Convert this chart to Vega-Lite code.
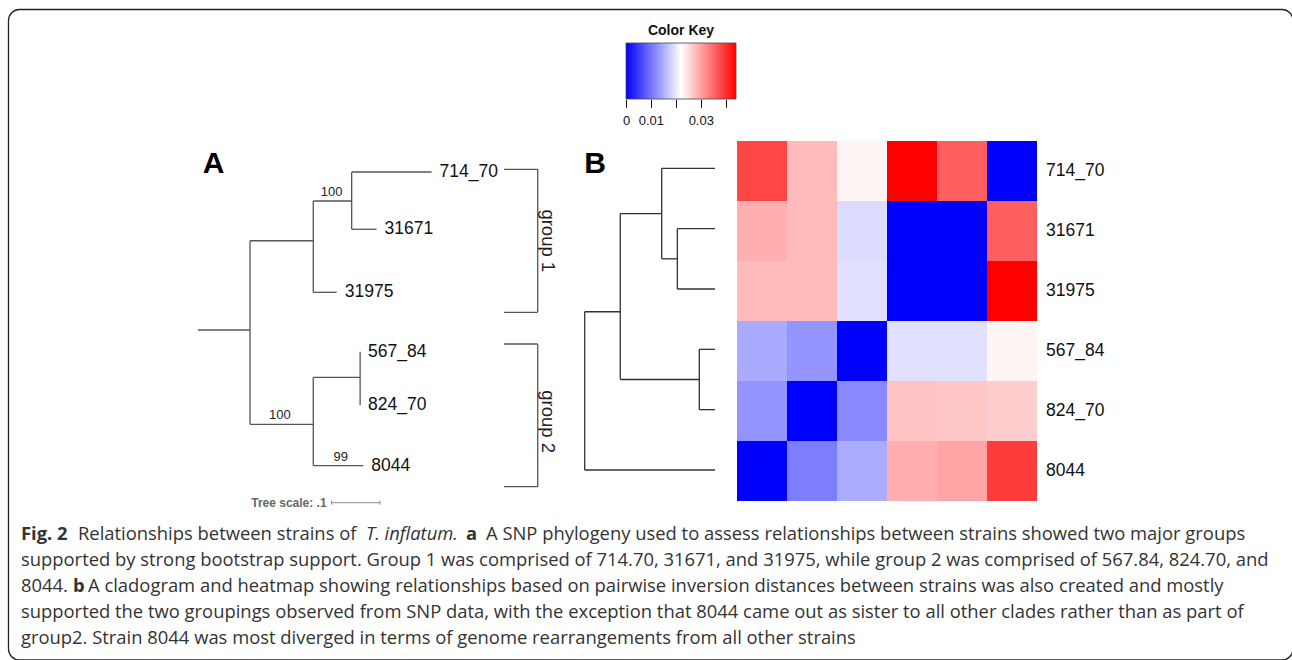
{
  "$schema": "https://vega.github.io/schema/vega-lite/v6.json",
  "width": 1292,
  "height": 660,
  "padding": 0,
  "autosize": {"type": "none"},
  "background": "white",
  "config": {"view": {"stroke": null}, "font": "Liberation Sans"},
  "datasets": {
    "treeA": [
      {"x1": -0.1077, "x2": 0, "y1": 3.69, "y2": 3.69},
      {"x1": 0, "x2": 0, "y1": 2.17, "y2": 5.295},
      {"x1": 0, "x2": 0.131, "y1": 2.17, "y2": 2.17},
      {"x1": 0.131, "x2": 0.131, "y1": 1.494, "y2": 3.048},
      {"x1": 0.131, "x2": 0.2105, "y1": 1.494, "y2": 1.494},
      {"x1": 0.2105, "x2": 0.2105, "y1": 1.0, "y2": 1.975},
      {"x1": 0.2105, "x2": 0.376, "y1": 1.0, "y2": 1.0},
      {"x1": 0.2105, "x2": 0.262, "y1": 1.975, "y2": 1.975},
      {"x1": 0.131, "x2": 0.1795, "y1": 3.048, "y2": 3.048},
      {"x1": 0, "x2": 0.131, "y1": 5.295, "y2": 5.295},
      {"x1": 0.131, "x2": 0.131, "y1": 4.495, "y2": 6.0},
      {"x1": 0.131, "x2": 0.228, "y1": 4.495, "y2": 4.495},
      {"x1": 0.228, "x2": 0.228, "y1": 4.059, "y2": 4.967},
      {"x1": 0.131, "x2": 0.2346, "y1": 6.0, "y2": 6.0},
      {"x1": 0.5259, "x2": 0.5957, "y1": 0.954, "y2": 0.954},
      {"x1": 0.5957, "x2": 0.5957, "y1": 0.954, "y2": 3.389},
      {"x1": 0.5259, "x2": 0.5957, "y1": 3.389, "y2": 3.389},
      {"x1": 0.5259, "x2": 0.5957, "y1": 3.928, "y2": 3.928},
      {"x1": 0.5957, "x2": 0.5957, "y1": 3.928, "y2": 6.357},
      {"x1": 0.5259, "x2": 0.5957, "y1": 6.357, "y2": 6.357}
    ],
    "tips": [
      {"strain": "714_70", "x": 0.376, "y": 1.0},
      {"strain": "31671", "x": 0.262, "y": 1.975},
      {"strain": "31975", "x": 0.1795, "y": 3.048},
      {"strain": "567_84", "x": 0.228, "y": 4.059},
      {"strain": "824_70", "x": 0.228, "y": 4.967},
      {"strain": "8044", "x": 0.2346, "y": 6.0}
    ],
    "boot": [
      {"support": "100", "x": 0.169, "y": 1.494},
      {"support": "100", "x": 0.062, "y": 5.295},
      {"support": "99", "x": 0.188, "y": 6.0}
    ],
    "groups": [
      {"group": "group 1", "x": 0.617, "y": 2.171},
      {"group": "group 2", "x": 0.617, "y": 5.251}
    ],
    "scalebar": [
      {"x1": 0.169, "x2": 0.269, "y1": 6.63, "y2": 6.63},
      {"x1": 0.169, "x2": 0.169, "y1": 6.595, "y2": 6.665},
      {"x1": 0.269, "x2": 0.269, "y1": 6.595, "y2": 6.665}
    ],
    "clado": [
      {"h1": 0, "h2": 0.409, "y1": 1, "y2": 1},
      {"h1": 0, "h2": 0.289, "y1": 2, "y2": 2},
      {"h1": 0, "h2": 0.289, "y1": 3, "y2": 3},
      {"h1": 0.289, "h2": 0.289, "y1": 2, "y2": 3},
      {"h1": 0.289, "h2": 0.409, "y1": 2.5, "y2": 2.5},
      {"h1": 0.409, "h2": 0.409, "y1": 1, "y2": 2.5},
      {"h1": 0.409, "h2": 0.727, "y1": 1.75, "y2": 1.75},
      {"h1": 0, "h2": 0.1205, "y1": 4, "y2": 4},
      {"h1": 0, "h2": 0.1205, "y1": 5, "y2": 5},
      {"h1": 0.1205, "h2": 0.1205, "y1": 4, "y2": 5},
      {"h1": 0.1205, "h2": 0.727, "y1": 4.5, "y2": 4.5},
      {"h1": 0.727, "h2": 0.727, "y1": 1.75, "y2": 4.5},
      {"h1": 0.727, "h2": 1, "y1": 3.377, "y2": 3.377},
      {"h1": 1, "h2": 1, "y1": 3.377, "y2": 6},
      {"h1": 0, "h2": 1, "y1": 6, "y2": 6}
    ],
    "heat": [
      {"row": "714_70", "col": "8044", "v": 0.038},
      {"row": "714_70", "col": "824_70", "v": 0.0279},
      {"row": "714_70", "col": "567_84", "v": 0.0229},
      {"row": "714_70", "col": "31975", "v": 0.044},
      {"row": "714_70", "col": "31671", "v": 0.0358},
      {"row": "714_70", "col": "714_70", "v": 0},
      {"row": "31671", "col": "8044", "v": 0.0289},
      {"row": "31671", "col": "824_70", "v": 0.0279},
      {"row": "31671", "col": "567_84", "v": 0.019},
      {"row": "31671", "col": "31975", "v": 0},
      {"row": "31671", "col": "31671", "v": 0},
      {"row": "31671", "col": "714_70", "v": 0.0358},
      {"row": "31975", "col": "8044", "v": 0.0279},
      {"row": "31975", "col": "824_70", "v": 0.0279},
      {"row": "31975", "col": "567_84", "v": 0.0194},
      {"row": "31975", "col": "31975", "v": 0},
      {"row": "31975", "col": "31671", "v": 0},
      {"row": "31975", "col": "714_70", "v": 0.044},
      {"row": "567_84", "col": "8044", "v": 0.0147},
      {"row": "567_84", "col": "824_70", "v": 0.0128},
      {"row": "567_84", "col": "567_84", "v": 0},
      {"row": "567_84", "col": "31975", "v": 0.0194},
      {"row": "567_84", "col": "31671", "v": 0.0194},
      {"row": "567_84", "col": "714_70", "v": 0.0229},
      {"row": "824_70", "col": "8044", "v": 0.0128},
      {"row": "824_70", "col": "824_70", "v": 0},
      {"row": "824_70", "col": "567_84", "v": 0.0119},
      {"row": "824_70", "col": "31975", "v": 0.0272},
      {"row": "824_70", "col": "31671", "v": 0.0269},
      {"row": "824_70", "col": "714_70", "v": 0.0263},
      {"row": "8044", "col": "8044", "v": 0},
      {"row": "8044", "col": "824_70", "v": 0.0108},
      {"row": "8044", "col": "567_84", "v": 0.0148},
      {"row": "8044", "col": "31975", "v": 0.0289},
      {"row": "8044", "col": "31671", "v": 0.0298},
      {"row": "8044", "col": "714_70", "v": 0.0388}
    ],
    "keyticks": [{"v": 0}, {"v": 0.01}, {"v": 0.02}, {"v": 0.03}, {"v": 0.04}],
    "caption": [
      {"line": 1, "seg": "fig", "text": "Fig. 2"},
      {"line": 1, "seg": "l1a", "text": "Relationships between strains of"},
      {"line": 1, "seg": "species", "text": "T. inflatum."},
      {"line": 1, "seg": "pa", "text": "a"},
      {"line": 1, "seg": "l1b", "text": "A SNP phylogeny used to assess relationships between strains showed two major groups"},
      {"line": 2, "seg": "start", "text": "supported by strong bootstrap support. Group 1 was comprised of 714.70, 31671, and 31975, while group 2 was comprised of 567.84, 824.70, and"},
      {"line": 3, "seg": "start", "text": "8044."},
      {"line": 3, "seg": "pb", "text": "b"},
      {"line": 3, "seg": "l3b", "text": "A cladogram and heatmap showing relationships based on pairwise inversion distances between strains was also created and mostly"},
      {"line": 4, "seg": "start", "text": "supported the two groupings observed from SNP data, with the exception that 8044 came out as sister to all other clades rather than as part of"},
      {"line": 5, "seg": "start", "text": "group2. Strain 8044 was most diverged in terms of genome rearrangements from all other strains"}
    ]
  },
  "layer": [
    {
      "data": {"values": [{"frame": "figure"}]},
      "mark": {"type": "rect", "fill": "transparent", "stroke": "#222222", "strokeWidth": 1.3, "cornerRadius": 11},
      "encoding": {
        "x": {"datum": 0, "type": "quantitative", "scale": {"domain": [0, 1], "range": [8.5, 1293], "nice": false, "zero": false}, "axis": null},
        "x2": {"datum": 1},
        "y": {"datum": 0, "type": "quantitative", "scale": {"domain": [0, 1], "range": [9.5, 660], "nice": false, "zero": false}, "axis": null},
        "y2": {"datum": 1}
      }
    },
    {
      "layer": [
        {
          "data": {"name": "treeA"},
          "mark": {"type": "rule", "color": "#555555", "strokeWidth": 1.3},
          "encoding": {
            "x": {"field": "x1", "type": "quantitative", "scale": {"domain": [0, 1], "range": [250, 733], "nice": false, "zero": false}, "axis": null},
            "x2": {"field": "x2"},
            "y": {"field": "y1", "type": "quantitative", "scale": {"domain": [1, 6], "range": [172, 465.7], "nice": false, "zero": false}, "axis": null},
            "y2": {"field": "y2"}
          }
        },
        {
          "data": {"name": "tips"},
          "mark": {"type": "text", "align": "left", "baseline": "middle", "dx": 8, "fontSize": 17.5, "color": "#111111"},
          "encoding": {
            "x": {"field": "x", "type": "quantitative"},
            "y": {"field": "y", "type": "quantitative"},
            "text": {"field": "strain"}
          }
        },
        {
          "data": {"name": "boot"},
          "mark": {"type": "text", "align": "center", "baseline": "alphabetic", "dy": -5, "fontSize": 13, "color": "#222222"},
          "encoding": {
            "x": {"field": "x", "type": "quantitative"},
            "y": {"field": "y", "type": "quantitative"},
            "text": {"field": "support"}
          }
        },
        {
          "data": {"name": "groups"},
          "mark": {"type": "text", "align": "center", "baseline": "middle", "angle": 90, "fontSize": 18.5, "color": "#222222"},
          "encoding": {
            "x": {"field": "x", "type": "quantitative"},
            "y": {"field": "y", "type": "quantitative"},
            "text": {"field": "group"}
          }
        },
        {
          "data": {"name": "scalebar"},
          "mark": {"type": "rule", "color": "#888888", "strokeWidth": 1},
          "encoding": {
            "x": {"field": "x1", "type": "quantitative"},
            "x2": {"field": "x2"},
            "y": {"field": "y1", "type": "quantitative"},
            "y2": {"field": "y2"}
          }
        },
        {
          "data": {"values": [{"label": "Tree scale: .1"}]},
          "mark": {"type": "text", "align": "right", "baseline": "middle", "dx": -5, "fontSize": 12, "fontWeight": "bold", "color": "#666666"},
          "encoding": {
            "x": {"datum": 0.169, "type": "quantitative"},
            "y": {"datum": 6.63, "type": "quantitative"},
            "text": {"field": "label"}
          }
        },
        {
          "data": {"values": [{"panel": "A"}]},
          "mark": {"type": "text", "align": "left", "baseline": "alphabetic", "fontSize": 30, "fontWeight": "bold", "color": "#000000"},
          "encoding": {
            "x": {"datum": -0.098, "type": "quantitative"},
            "y": {"datum": 1.02, "type": "quantitative"},
            "text": {"field": "panel"}
          }
        }
      ]
    },
    {
      "layer": [
        {
          "data": {"name": "clado"},
          "mark": {"type": "rule", "color": "#333333", "strokeWidth": 1.3},
          "encoding": {
            "x": {"field": "h1", "type": "quantitative", "scale": {"domain": [0, 1], "range": [715, 584.7], "nice": false, "zero": false}, "axis": null},
            "x2": {"field": "h2"},
            "y": {"field": "y1", "type": "quantitative", "scale": {"domain": [1, 6], "range": [168.3, 470], "nice": false, "zero": false}, "axis": null},
            "y2": {"field": "y2"}
          }
        },
        {
          "data": {"values": [{"panel": "B"}]},
          "mark": {"type": "text", "align": "left", "baseline": "alphabetic", "fontSize": 30, "fontWeight": "bold", "color": "#000000"},
          "encoding": {
            "x": {"datum": 1.003, "type": "quantitative"},
            "y": {"datum": 1.08, "type": "quantitative"},
            "text": {"field": "panel"}
          }
        }
      ]
    },
    {
      "layer": [
        {
          "data": {"name": "heat"},
          "mark": {"type": "rect"},
          "encoding": {
            "x": {"field": "col", "type": "nominal", "scale": {"domain": ["8044", "824_70", "567_84", "31975", "31671", "714_70"], "range": [737, 1037], "paddingInner": 0, "paddingOuter": 0}, "axis": null},
            "y": {"field": "row", "type": "nominal", "scale": {"domain": ["714_70", "31671", "31975", "567_84", "824_70", "8044"], "range": [141, 501], "paddingInner": 0, "paddingOuter": 0}, "axis": null},
            "color": {
              "field": "v", "type": "quantitative",
              "scale": {"domain": [0, 0.022, 0.044], "range": ["#0000ff", "#ffffff", "#ff0000"], "interpolate": "rgb"},
              "legend": {
                "orient": "none", "legendX": 626, "legendY": 24, "direction": "horizontal",
                "gradientLength": 110, "gradientThickness": 56,
                "title": "Color Key", "titleAnchor": "middle", "titleFontSize": 14, "titleFontWeight": "bold", "titleColor": "#111111", "titlePadding": 5, "titleFont": "Liberation Sans",
                "labelOpacity": 0, "gradientStrokeColor": "#444444", "gradientStrokeWidth": 0.8
              }
            }
          }
        },
        {
          "data": {"name": "heat"},
          "transform": [{"filter": "datum.col === '714_70'"}],
          "mark": {"type": "text", "align": "left", "baseline": "middle", "dx": 9, "fontSize": 17.5, "color": "#111111"},
          "encoding": {
            "x": {"field": "col", "type": "nominal", "bandPosition": 1},
            "y": {"field": "row", "type": "nominal"},
            "text": {"field": "row"}
          }
        }
      ]
    },
    {
      "data": {"name": "keyticks"},
      "mark": {"type": "point", "opacity": 0},
      "encoding": {
        "x": {
          "field": "v", "type": "quantitative",
          "scale": {"domain": [0, 0.044], "range": [626, 735.7], "nice": false, "zero": false},
          "axis": {
            "orient": "bottom", "offset": -560.7, "values": [0, 0.01, 0.02, 0.03, 0.04],
            "labelExpr": "datum.value == 0 ? '0' : (abs(datum.value - 0.01) < 1e-9 ? '0.01' : (abs(datum.value - 0.03) < 1e-9 ? '0.03' : ''))",
            "domain": false, "grid": false, "tickSize": 8, "tickWidth": 1, "tickColor": "#111111",
            "labelFontSize": 13, "labelColor": "#111111", "labelPadding": 7, "labelFlush": false, "labelOverlap": false,
            "labelFont": "Liberation Sans", "title": null
          }
        }
      }
    },
    {
      "layer": [
        {
          "data": {"name": "caption"},
          "transform": [{"filter": "datum.seg === 'start'"}],
          "mark": {"type": "text", "align": "left", "baseline": "alphabetic", "font": "Open Sans", "fontSize": 18.4, "color": "#333333"},
          "encoding": {
            "x": {"datum": 0, "type": "quantitative", "scale": {"domain": [0, 1], "range": [21, 1271], "nice": false, "zero": false}, "axis": null},
            "y": {"field": "line", "type": "quantitative", "scale": {"domain": [1, 5], "range": [540, 644], "nice": false, "zero": false}, "axis": null},
            "text": {"field": "text"}
          }
        },
        {
          "data": {"name": "caption"},
          "transform": [{"filter": "datum.seg === 'fig'"}],
          "mark": {"type": "text", "align": "left", "baseline": "alphabetic", "font": "Open Sans", "fontWeight": "bold", "fontSize": 18.4, "color": "#333333"},
          "encoding": {"x": {"datum": 0, "type": "quantitative"}, "y": {"field": "line", "type": "quantitative"}, "text": {"field": "text"}}
        },
        {
          "data": {"name": "caption"},
          "transform": [{"filter": "datum.seg === 'l1a'"}],
          "mark": {"type": "text", "align": "left", "baseline": "alphabetic", "dx": 57, "font": "Open Sans", "fontSize": 18.4, "color": "#333333"},
          "encoding": {"x": {"datum": 0, "type": "quantitative"}, "y": {"field": "line", "type": "quantitative"}, "text": {"field": "text"}}
        },
        {
          "data": {"name": "caption"},
          "transform": [{"filter": "datum.seg === 'species'"}],
          "mark": {"type": "text", "align": "left", "baseline": "alphabetic", "dx": 345, "font": "Open Sans", "fontStyle": "italic", "fontSize": 18.4, "color": "#333333"},
          "encoding": {"x": {"datum": 0, "type": "quantitative"}, "y": {"field": "line", "type": "quantitative"}, "text": {"field": "text"}}
        },
        {
          "data": {"name": "caption"},
          "transform": [{"filter": "datum.seg === 'pa'"}],
          "mark": {"type": "text", "align": "left", "baseline": "alphabetic", "dx": 445, "font": "Open Sans", "fontWeight": "bold", "fontSize": 18.4, "color": "#333333"},
          "encoding": {"x": {"datum": 0, "type": "quantitative"}, "y": {"field": "line", "type": "quantitative"}, "text": {"field": "text"}}
        },
        {
          "data": {"name": "caption"},
          "transform": [{"filter": "datum.seg === 'l1b'"}],
          "mark": {"type": "text", "align": "left", "baseline": "alphabetic", "dx": 465, "font": "Open Sans", "fontSize": 18.4, "color": "#333333"},
          "encoding": {"x": {"datum": 0, "type": "quantitative"}, "y": {"field": "line", "type": "quantitative"}, "text": {"field": "text"}}
        },
        {
          "data": {"name": "caption"},
          "transform": [{"filter": "datum.seg === 'pb'"}],
          "mark": {"type": "text", "align": "left", "baseline": "alphabetic", "dx": 52, "font": "Open Sans", "fontWeight": "bold", "fontSize": 18.4, "color": "#333333"},
          "encoding": {"x": {"datum": 0, "type": "quantitative"}, "y": {"field": "line", "type": "quantitative"}, "text": {"field": "text"}}
        },
        {
          "data": {"name": "caption"},
          "transform": [{"filter": "datum.seg === 'l3b'"}],
          "mark": {"type": "text", "align": "left", "baseline": "alphabetic", "dx": 67, "font": "Open Sans", "fontSize": 18.4, "color": "#333333"},
          "encoding": {"x": {"datum": 0, "type": "quantitative"}, "y": {"field": "line", "type": "quantitative"}, "text": {"field": "text"}}
        }
      ]
    }
  ],
  "resolve": {
    "scale": {"x": "independent", "y": "independent"},
    "axis": {"x": "independent", "y": "independent"}
  }
}
